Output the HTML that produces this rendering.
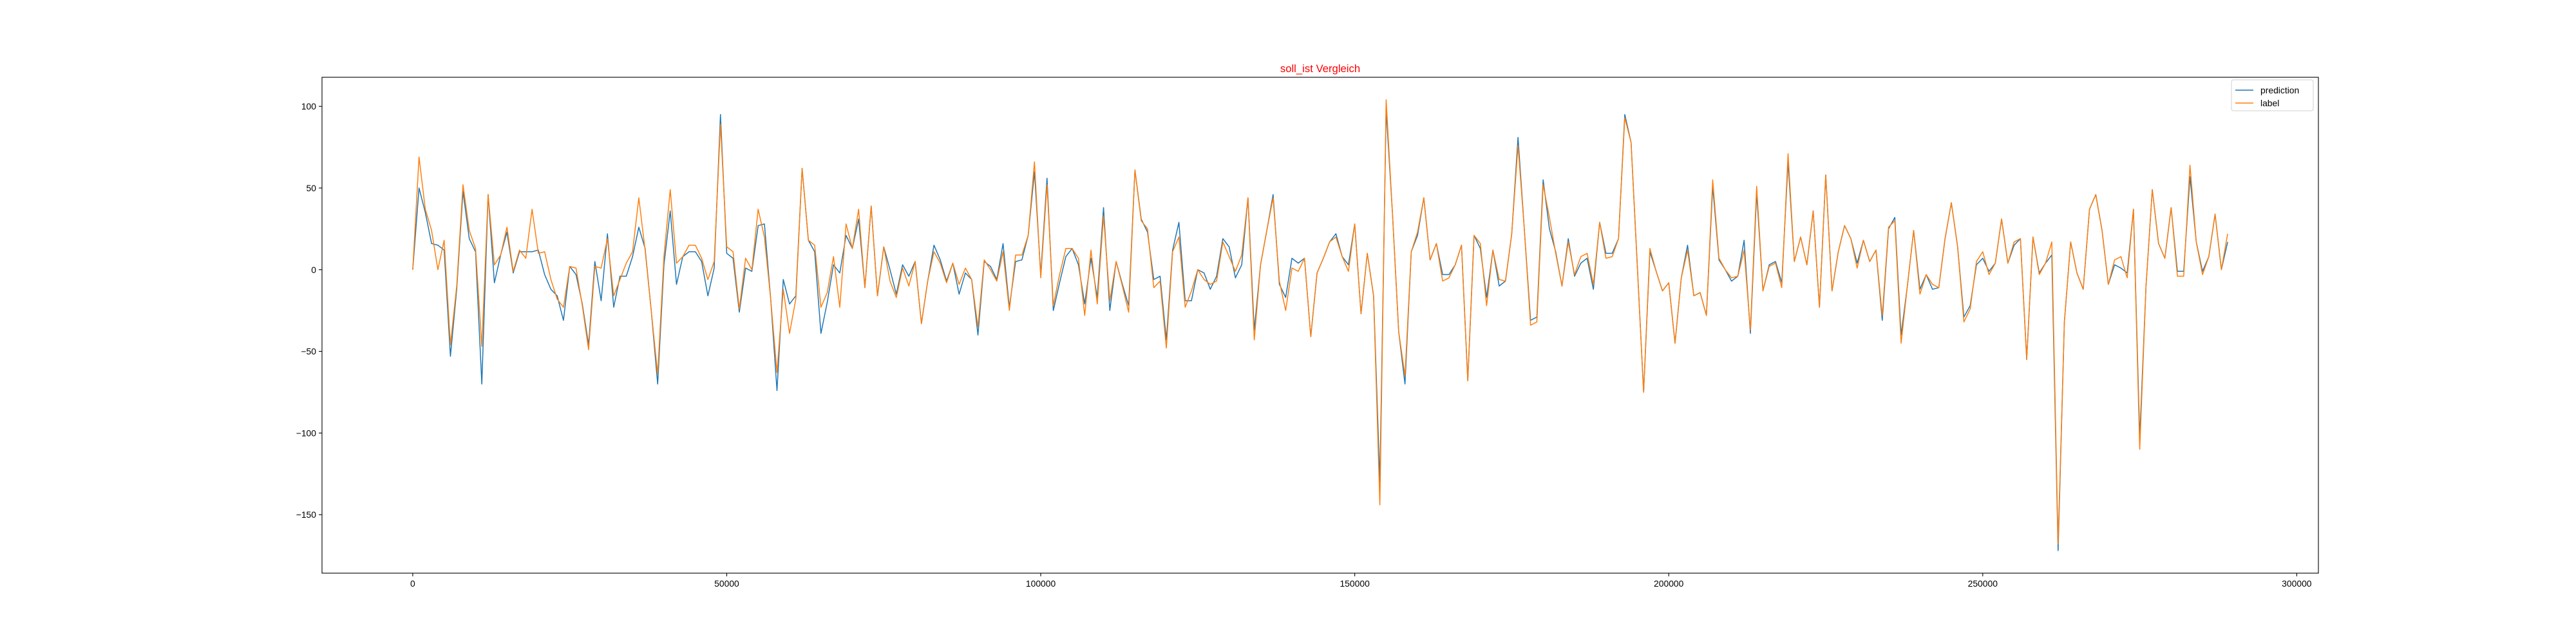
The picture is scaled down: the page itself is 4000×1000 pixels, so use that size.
<!DOCTYPE html>
<html><head><meta charset="utf-8"><style>
html,body{margin:0;padding:0;background:#fff;}
svg{display:block;font-family:"Liberation Sans","DejaVu Sans",sans-serif;}
</style></head><body>
<svg id="chart" width="4000" height="1000" viewBox="0 0 4000 1000" xmlns="http://www.w3.org/2000/svg">
<rect x="0" y="0" width="4000" height="1000" fill="#fff"/>
<text x="2050" y="112" text-anchor="middle" font-size="16.7" fill="#ff0000">soll_ist Vergleich</text>
<g id="plot"></g>
</svg>
<script>
const xStep = 1000;
const xTicks = [0, 50000, 100000, 150000, 200000, 250000, 300000];
const yTicks = [-150, -100, -50, 0, 50, 100];
const seriesNames = ["prediction", "label"];
const prediction = [0,50,35,16,15,12,-53,-12,48,19,11,-70,46,-8,9,23,-2,11,11,11,12,-3,-12,-16,-31,2,-3,-21,-46,5,-19,22,-23,-4,-4,8,26,13,-26,-70,3,36,-9,8,11,11,5,-16,1,95,10,7,-26,1,-1,27,28,-18,-74,-6,-21,-16,62,18,11,-39,-20,3,-2,21,13,31,-11,39,-16,14,0,-15,3,-4,5,-33,-7,15,6,-7,4,-15,-2,-6,-40,5,2,-6,16,-23,5,6,21,60,-3,56,-25,-8,8,13,3,-21,7,-17,38,-25,5,-9,-22,61,31,23,-6,-4,-43,12,29,-19,-19,0,-2,-12,-4,19,14,-5,3,44,-37,3,24,46,-9,-17,7,4,7,-41,-2,7,17,22,8,3,28,-27,10,-16,-130,98,35,-38,-70,11,21,44,6,16,-3,-3,3,15,-68,21,13,-17,12,-10,-7,22,81,25,-31,-29,55,25,11,-10,19,-4,4,7,-12,29,10,10,19,95,78,2,-75,11,-1,-13,-8,-45,-5,15,-16,-14,-28,51,6,0,-7,-4,18,-39,47,-13,3,5,-8,66,5,20,3,36,-23,58,-13,11,27,19,4,18,5,12,-31,25,32,-40,-10,24,-12,-3,-12,-11,19,41,14,-29,-22,3,7,-1,4,31,4,15,19,-55,20,-2,4,9,-172,-32,17,-2,-12,37,46,24,-9,3,1,-2,37,-103,-10,49,16,7,38,-1,-1,57,17,-1,8,34,0,17];
const label = [0,69,37,24,0,18,-46,-10,52,24,13,-47,46,3,9,26,-1,12,7,37,10,11,-6,-18,-23,2,1,-22,-49,2,1,19,-16,-6,4,11,44,12,-26,-64,8,49,4,8,15,15,7,-6,5,89,14,11,-24,7,0,37,20,-18,-63,-12,-39,-18,62,18,15,-23,-14,8,-23,28,13,37,-11,39,-16,14,-7,-17,1,-10,5,-33,-7,11,4,-8,4,-9,1,-6,-35,6,0,-7,11,-25,9,9,21,66,-5,52,-22,-3,13,13,7,-28,12,-21,33,-19,5,-10,-26,61,30,25,-11,-7,-48,11,20,-23,-13,0,-6,-9,-7,17,8,-1,9,44,-43,3,24,44,-7,-25,1,-1,7,-41,-2,7,17,20,8,-1,28,-27,10,-16,-144,104,35,-38,-65,11,23,44,6,16,-7,-5,3,15,-68,21,16,-22,12,-6,-7,22,76,25,-34,-32,52,32,10,-10,17,-3,8,10,-9,29,7,8,19,93,78,2,-75,13,-1,-13,-8,-45,-5,12,-16,-14,-28,55,7,0,-5,-4,12,-37,51,-13,2,4,-11,71,5,20,3,36,-23,58,-13,11,27,19,1,18,5,12,-28,26,30,-45,-10,24,-15,-3,-9,-11,19,41,14,-32,-24,5,11,-3,4,31,4,17,19,-55,20,-3,4,17,-168,-32,17,-2,-12,37,46,24,-9,6,8,-5,37,-110,-10,49,16,7,38,-4,-4,64,17,-3,8,34,0,22];

const NS = "http://www.w3.org/2000/svg";
const plot = document.getElementById("plot");
const L = 500, R = 3600, T = 120, B = 890;
const n = prediction.length;
const xMinD = 0, xMaxD = (n - 1) * xStep;
const xPad = (xMaxD - xMinD) * 0.05;
const allY = prediction.concat(label);
const yMinD = Math.min(...allY), yMaxD = Math.max(...allY);
const yPad = (yMaxD - yMinD) * 0.05;
const x0 = xMinD - xPad, x1 = xMaxD + xPad, y0 = yMinD - yPad, y1 = yMaxD + yPad;
function sx(v){ return L + (v - x0) / (x1 - x0) * (R - L); }
function sy(v){ return B - (v - y0) / (y1 - y0) * (B - T); }
function mk(tag, attrs){ const e = document.createElementNS(NS, tag); for (const k in attrs) e.setAttribute(k, attrs[k]); return e; }

// axes frame
const frame = mk("rect", {x:L, y:T, width:R-L, height:B-T, fill:"none", stroke:"#000", "stroke-width":1.1});


plot.appendChild(frame);

// x ticks
xTicks.forEach(t => {
  const px = sx(t);
  const tk = mk("line", {x1:px, x2:px, y1:B, y2:B+4.9, stroke:"#000", "stroke-width":1.1});
  
  
  plot.appendChild(tk);
  const lb = mk("text", {x:px, y:B+21, "text-anchor":"middle", "font-size":"13.9", fill:"#000"});
  lb.textContent = String(t);
  
  
  plot.appendChild(lb);
});
// y ticks
yTicks.forEach(t => {
  const py = sy(t);
  const tk = mk("line", {x1:L-4.9, x2:L, y1:py, y2:py, stroke:"#000", "stroke-width":1.1});
  
  
  plot.appendChild(tk);
  const lb = mk("text", {x:L-9, y:py+5, "text-anchor":"end", "font-size":"13.9", fill:"#000"});
  lb.textContent = t < 0 ? "\u2212" + Math.abs(t) : String(t);
  
  
  plot.appendChild(lb);
});

function pathFor(arr){ return arr.map((v,i) => (i ? "L" : "M") + sx(i*xStep).toFixed(2) + " " + sy(v).toFixed(2)).join(" "); }
const lp = mk("path", {d:pathFor(prediction), fill:"none", stroke:"#1f77b4", "stroke-width":1.5, "stroke-linejoin":"round"});


plot.appendChild(lp);
const ll = mk("path", {d:pathFor(label), fill:"none", stroke:"#ff7f0e", "stroke-width":1.5, "stroke-linejoin":"round"});


plot.appendChild(ll);

// legend
const lg = mk("g", {});


plot.appendChild(lg);
const lbox = mk("rect", {x:3465, y:124, width:127, height:48, rx:3, fill:"#fff", "fill-opacity":0.8, stroke:"#d0d0d0", "stroke-width":1});


lg.appendChild(lbox);
const colors = ["#1f77b4", "#ff7f0e"];
seriesNames.forEach((nm, i) => {
  const yy = 140 + i * 20;
  const sw = mk("line", {x1:3471, x2:3499, y1:yy, y2:yy, stroke:colors[i], "stroke-width":1.5});
  
  
  lg.appendChild(sw);
  const tx = mk("text", {x:3510, y:yy+5, "font-size":"13.9", fill:"#000"});
  tx.textContent = nm;
  
  
  lg.appendChild(tx);
});
</script>
</body></html>
